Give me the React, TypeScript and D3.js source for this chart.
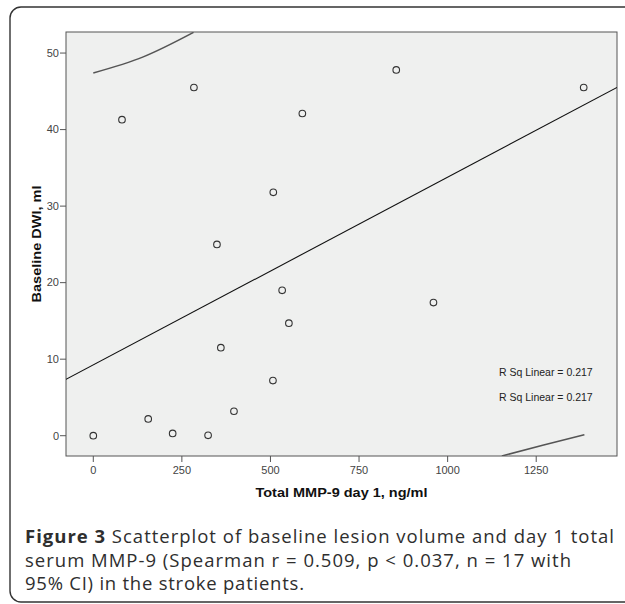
import React from 'react';
import * as d3 from 'd3';

// values
const mmp9 = [0, 155, 224, 324, 397, 507, 360, 552, 533, 349, 508, 590, 81, 284, 855, 1384, 960];
const dwi = [0, 2.2, 0.3, 0.05, 3.2, 7.2, 11.5, 14.7, 19.0, 25.0, 31.8, 42.1, 41.3, 45.5, 47.8, 45.5, 17.4];

const xTicks = [0, 250, 500, 750, 1000, 1250];
const yTicks = [0, 10, 20, 30, 40, 50];
const xDomain = [-77, 1478];
const yDomain = [-2.65, 52.75];

const fitIntercept = 9.25;
const fitSlope = 0.02453;

const upperCI = [[0, 47.4], [141, 49.5], [283, 52.7]];
const lowerCI = [[1153, -2.65], [1271, -1.2], [1386, 0.13]];

const rSqLabels = ['R Sq Linear = 0.217', 'R Sq Linear = 0.217'];
const captionLines = [
  ['Figure 3', ' Scatterplot of baseline lesion volume and day 1 total'],
  ['', 'serum MMP-9 (Spearman r = 0.509, p < 0.037, n = 17 with'],
  ['', '95% CI) in the stroke patients.'],
];
const captionWidths = [589, 546, 279];

export default function App() {
  const W = 625, H = 604;
  const frame = { left: 66, right: 617, top: 32, bottom: 456 };

  const x = d3.scaleLinear().domain(xDomain).range([frame.left, frame.right]);
  const y = d3.scaleLinear().domain(yDomain).range([frame.bottom, frame.top]);

  const line = d3.line<number[]>().x(d => x(d[0])).y(d => y(d[1])).curve(d3.curveNatural);

  const sans = '"Liberation Sans", Arial, sans-serif';
  const tickFont = { fontFamily: sans, fontSize: 11, fill: '#444' };

  return (
    <svg width={W} height={H} style={{ position: 'absolute', left: 0, top: 0, background: '#fff' }}>
      <defs>
        <clipPath id="plotClip">
          <rect x={frame.left} y={frame.top} width={frame.right - frame.left} height={frame.bottom - frame.top} />
        </clipPath>
      </defs>

      {/* outer rounded panel */}
      <rect x={10} y={7} width={660} height={595} rx={11} fill="none" stroke="#333" strokeWidth={1.4} />

      {/* plot frame */}
      <rect x={frame.left} y={frame.top} width={frame.right - frame.left} height={frame.bottom - frame.top}
        fill="#eff0ef" stroke="#555" strokeWidth={1} />

      <g clipPath="url(#plotClip)">
        <path d={line([[xDomain[0], fitIntercept + fitSlope * xDomain[0]], [xDomain[1], fitIntercept + fitSlope * xDomain[1]]]) || ''}
          fill="none" stroke="#111" strokeWidth={1.1} />
        <path d={line(upperCI) || ''} fill="none" stroke="#555" strokeWidth={1.5} />
        <path d={line(lowerCI) || ''} fill="none" stroke="#555" strokeWidth={1.5} />
      </g>

      {mmp9.map((v, i) => (
        <circle key={i} cx={x(v)} cy={y(dwi[i])} r={3.3} fill="none" stroke="#333" strokeWidth={1.1} />
      ))}

      {/* y axis */}
      {yTicks.map(t => (
        <g key={t}>
          <line x1={frame.left - 6} x2={frame.left} y1={y(t)} y2={y(t)} stroke="#555" />
          <text x={frame.left - 7} y={y(t)} dy="0.35em" textAnchor="end" {...tickFont}>{t}</text>
        </g>
      ))}

      {/* x axis */}
      {xTicks.map(t => (
        <g key={t}>
          <line x1={x(t)} x2={x(t)} y1={frame.bottom} y2={frame.bottom + 6} stroke="#555" />
          <text x={x(t)} y={474} textAnchor="middle" {...tickFont}>{t}</text>
        </g>
      ))}

      <text x={(frame.left + frame.right) / 2} y={497} textAnchor="middle" fontFamily={sans}
        fontSize={12.5} fontWeight="bold" fill="#111" textLength={172} lengthAdjust="spacingAndGlyphs">
        Total MMP-9 day 1, ng/ml
      </text>
      <text transform={`translate(41,${(frame.top + frame.bottom) / 2}) rotate(-90)`} textAnchor="middle"
        fontFamily={sans} fontSize={12.5} fontWeight="bold" fill="#111" textLength={117}
        lengthAdjust="spacingAndGlyphs">
        Baseline DWI, ml
      </text>

      {rSqLabels.map((s, i) => (
        <text key={i} x={499} y={376 + i * 24.5} fontFamily={sans} fontSize={10.5} fill="#222">{s}</text>
      ))}

      {/* caption */}
      {captionLines.map((ln, i) => (
        <text key={i} x={25} y={543 + i * 23.5} fontFamily='"Open Sans", "Noto Sans", sans-serif'
          fontSize={18.5} fill="#2e2e2e" textLength={captionWidths[i]} lengthAdjust="spacing">
          {ln[0] && <tspan fontWeight="bold">{ln[0]}</tspan>}
          <tspan>{ln[1]}</tspan>
        </text>
      ))}
    </svg>
  );
}
